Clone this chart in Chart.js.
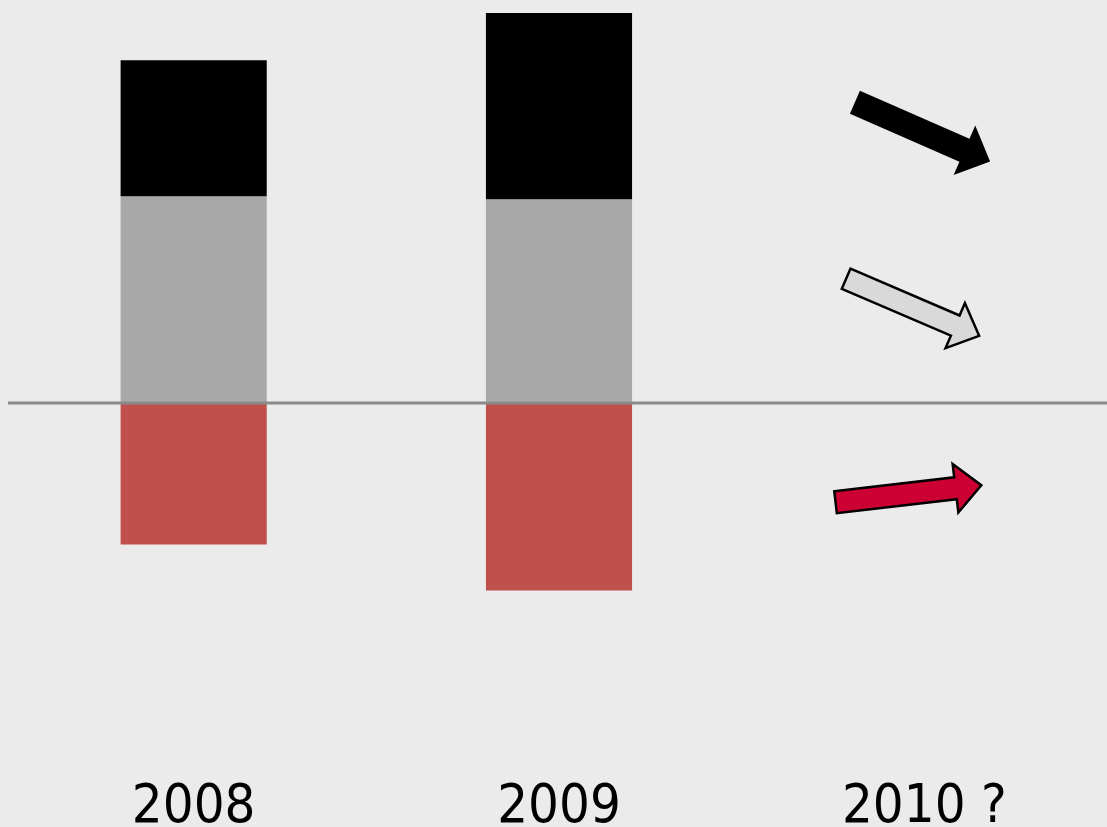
<!DOCTYPE html>
<html>
<head>
<meta charset="utf-8">
<script src="https://cdn.jsdelivr.net/npm/chart.js@4.4.1/dist/chart.umd.min.js"></script>
<style>
  html, body { margin: 0; padding: 0; background: #ebebeb; }
  canvas { display: block; }
</style>
</head>
<body>
<canvas id="grafico" width="1107" height="827"></canvas>
<script>
// Dados
const anos = ['2008', '2009', '2010 ?'];
const serieVermelha = [-14.1, -18.7, null];
const serieCinza = [20.6, 20.3, null];
const seriePreta = [13.6, 18.6, null];

// Tendências para 2010 (setas): valor inicial e final no eixo y
const setaInicio = [30.0, 12.4, -9.9];
const setaFim = [24.1, 6.7, -8.2];
const setaCores = ['#000000', '#d9d9d9', '#cc0033'];

// Desenha uma seta (haste + ponta) entre dois pontos
function desenharSeta(ctx, x1, y1, x2, y2, largura, cabeca, comprimento, cor, contorno) {
    const ang = Math.atan2(y2 - y1, x2 - x1);
    const len = Math.hypot(x2 - x1, y2 - y1);
    ctx.save();
    ctx.translate(x1, y1);
    ctx.rotate(ang);
    const base = len - comprimento;
    ctx.beginPath();
    ctx.moveTo(0, -largura / 2);
    ctx.lineTo(base, -largura / 2);
    ctx.lineTo(base, -cabeca / 2);
    ctx.lineTo(len, 0);
    ctx.lineTo(base, cabeca / 2);
    ctx.lineTo(base, largura / 2);
    ctx.lineTo(0, largura / 2);
    ctx.closePath();
    ctx.fillStyle = cor;
    ctx.fill();
    if (contorno) {
        ctx.lineWidth = 2.5;
        ctx.lineJoin = 'miter';
        ctx.strokeStyle = '#000000';
        ctx.stroke();
    }
    ctx.restore();
}

const pluginExtras = {
    id: 'extras',
    afterDatasetsDraw(chart) {
        const { ctx, chartArea, scales: { x, y } } = chart;
        // linha do zero
        const y0 = y.getPixelForValue(0);
        ctx.save();
        ctx.strokeStyle = '#8a8a8a';
        ctx.lineWidth = 3;
        ctx.beginPath();
        ctx.moveTo(chartArea.left - 3, y0);
        ctx.lineTo(chartArea.right, y0);
        ctx.stroke();
        ctx.restore();

        // setas de 2010
        const cx = x.getPixelForValue(2);
        const w = x.width / anos.length;
        const dxIni = [-0.19, -0.214, -0.243];
        const dxFim = [0.18, 0.15, 0.156];
        for (let i = 0; i < setaInicio.length; i++) {
            desenharSeta(ctx,
                cx + dxIni[i] * w, y.getPixelForValue(setaInicio[i]),
                cx + dxFim[i] * w, y.getPixelForValue(setaFim[i]),
                i === 0 ? 25 : 22, i === 0 ? 54 : 49, i === 0 ? 28 : 26,
                setaCores[i], i !== 0);
        }
    }
};

new Chart(document.getElementById('grafico'), {
    type: 'bar',
    data: {
        labels: anos,
        datasets: [
            { data: serieVermelha, backgroundColor: '#c0504d' },
            { data: serieCinza, backgroundColor: '#a8a8a8' },
            { data: seriePreta, backgroundColor: '#000000' }
        ]
    },
    options: {
        responsive: false,
        animation: false,
        layout: { padding: { left: 11, right: 0, top: 0, bottom: 0 } },
        datasets: { bar: { barPercentage: 0.4, categoryPercentage: 1 } },
        plugins: { legend: { display: false }, tooltip: { enabled: false } },
        scales: {
            x: {
                stacked: true,
                grid: { display: false },
                border: { display: false },
                ticks: {
                    color: '#000000',
                    padding: -8,
                    font: { family: '"Liberation Sans Narrow", "DejaVu Sans Condensed", sans-serif', size: 54, lineHeight: 1 }
                }
            },
            y: {
                stacked: true,
                display: false,
                min: -37.7,
                max: 40.2
            }
        }
    },
    plugins: [pluginExtras]
});
</script>
</body>
</html>
